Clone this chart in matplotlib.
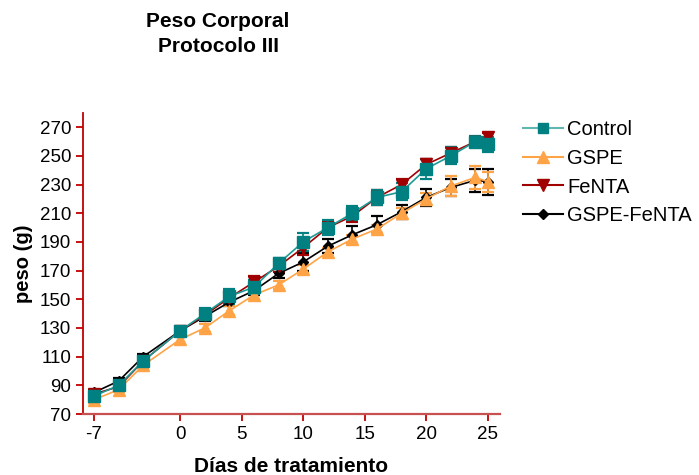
import numpy as np
import matplotlib
matplotlib.use("Agg")
import matplotlib.pyplot as plt
from matplotlib.lines import Line2D

plt.rcParams['font.family'] = ['Liberation Sans', 'DejaVu Sans']
plt.rcParams['axes.unicode_minus'] = False

# dias de tratamiento
dias = [-7, -5, -3, 0, 2, 4, 6, 8, 10, 12, 14, 16, 18, 20, 22, 24, 25]

# peso medio (g) y error estandar por grupo
control = [82.5, 90, 107, 128, 140, 152, 158.5, 175, 190, 200, 210, 221, 225, 241, 250, 260, 258]
control_err = [2, 2, 2, 3, 4, 5, 5, 4, 6, 5, 5, 5, 6, 7, 6, 4, 5]

gspe = [80, 87, 104, 122, 130, 142, 153, 160, 171, 183, 192, 199, 210, 220, 229, 235, 232]
gspe_err = [2, 2, 2, 3, 3, 3, 3, 3, 3, 3, 3, 3, 4, 4, 7, 8, 7]

fenta = [84, 89, 107, 128, 139, 151, 162, 173, 186, 200, 208, 221, 230, 244, 252, 260, 263]
fenta_err = [2, 2, 2, 3, 3, 4, 4, 4, 5, 4, 4, 5, 4, 4, 4, 3, 3]

gspe_fenta = [85, 93, 110, 128, 138, 148, 156, 168, 176, 187, 195, 202, 211, 221, 228, 233, 232]
gspe_fenta_err = [2, 2, 2, 3, 3, 3, 3, 3, 6, 5, 6, 6, 5, 6, 6, 8, 9]

fig = plt.figure(figsize=(6.99, 4.75), dpi=100)
ax = fig.add_axes([0.1187, 0.1284, 0.5966, 0.634])

series = [
    ("GSPE-FeNTA", gspe_fenta, gspe_fenta_err, "black", "black", "D", 5),
    ("FeNTA", fenta, fenta_err, "#a00000", "#a00000", "v", 9),
    ("GSPE", gspe, gspe_err, "#ffa347", "#ffa347", "^", 9),
    ("Control", control, control_err, "#1f9a96", "#008080", "s", 8),
]

handles = {}
for name, y, err, lc, mc, mk, ms in series:
    ax.errorbar(dias, y, yerr=err, color=lc, marker=mk, markersize=ms,
                markerfacecolor=mc, markeredgecolor=mc, linewidth=1.2,
                ecolor=mc, elinewidth=1.2, capsize=4, capthick=1.6)
    lms = ms - 1 if mk != "D" else ms
    lc_leg = "#5fb8b0" if name == "Control" else lc
    handles[name] = Line2D([], [], color=lc_leg, marker=mk, markersize=lms,
                           markerfacecolor=mc, markeredgecolor=mc, linewidth=1.5)

ax.set_xlim(-7.9, 26)
ax.set_ylim(70, 280)
ax.set_xticks([-7, 0, 5, 10, 15, 20, 25])
ax.set_yticks(np.arange(70, 271, 20))

for s in ["top", "right"]:
    ax.spines[s].set_visible(False)
ax.spines["left"].set_color("#c00000")
ax.spines["bottom"].set_color("#c85050")
ax.spines["left"].set_linewidth(1.3)
ax.spines["bottom"].set_linewidth(1.6)
ax.tick_params(axis="both", direction="out", length=5, width=1.3,
               colors="#c00000", labelcolor="black", labelsize=13.5)

ax.set_xlabel("Días de tratamiento", fontsize=15, fontweight="bold", labelpad=10)
ax.set_ylabel("peso (g)", fontsize=14.5, fontweight="bold", labelpad=5)

fig.text(0.312, 0.975, "Peso Corporal\nProtocolo III", ha="center", va="top",
         fontsize=15, fontweight="bold", linespacing=1.4)

order = ["Control", "GSPE", "FeNTA", "GSPE-FeNTA"]
fig.legend([handles[n] for n in order], order, loc="upper left",
           bbox_to_anchor=(0.748, 0.747), frameon=False, fontsize=14.5,
           handlelength=2.0, handletextpad=0.2, labelspacing=0.48,
           borderaxespad=0, borderpad=0)

fig.savefig("out.png", dpi=100)
